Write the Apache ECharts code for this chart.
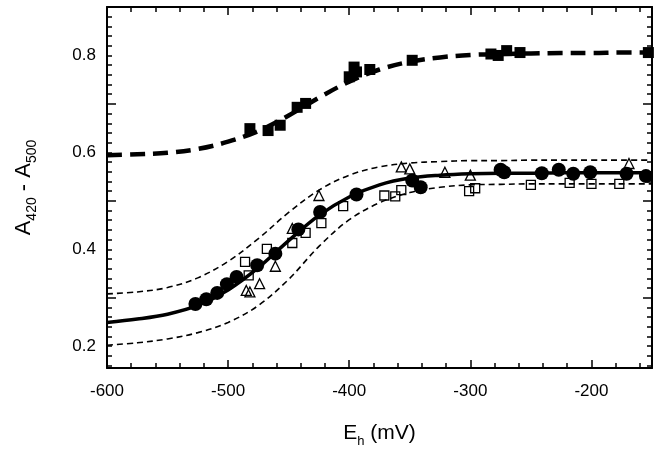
<!DOCTYPE html>
<html>
<head>
<meta charset="utf-8">
<script src="https://cdn.jsdelivr.net/npm/echarts@6/dist/echarts.min.js"></script>
<style>html,body{margin:0;padding:0;background:#fff;}#c{width:661px;height:457px;}</style>
</head>
<body>
<div id="c"></div>
<script>
// ---- data ----
const fitX = [-600,-575,-550,-525,-500,-475,-450,-425,-400,-375,-350,-325,-300,-275,-250,-225,-200,-175,-150];
const topFitY = [0.594,0.596,0.599,0.607,0.622,0.644,0.676,0.713,0.746,0.771,0.787,0.796,0.801,0.803,0.804,0.805,0.805,0.806,0.806];
const mainFitY = [0.249,0.256,0.266,0.284,0.316,0.362,0.418,0.470,0.508,0.533,0.547,0.553,0.556,0.557,0.557,0.558,0.558,0.558,0.558];
const upperBandY = [0.308,0.312,0.321,0.341,0.375,0.422,0.476,0.522,0.553,0.570,0.578,0.581,0.583,0.583,0.584,0.584,0.584,0.584,0.584];
const lowerBandY = [0.202,0.207,0.215,0.228,0.249,0.284,0.338,0.406,0.461,0.496,0.517,0.528,0.533,0.534,0.535,0.535,0.535,0.535,0.535];

const filledSquareX = [-482,-467,-457,-443,-436,-400,-396,-394,-383,-348,-283,-277,-270,-259,-153];
const filledSquareY = [0.649,0.645,0.656,0.693,0.701,0.756,0.776,0.766,0.771,0.790,0.803,0.800,0.810,0.806,0.806];

const filledCircleX = [-527,-518,-509,-501,-493,-476,-461,-442,-424,-394,-348,-341,-275,-272,-241,-227,-215,-201,-171,-155];
const filledCircleY = [0.287,0.297,0.310,0.328,0.343,0.367,0.391,0.441,0.477,0.513,0.542,0.528,0.564,0.559,0.557,0.564,0.556,0.559,0.556,0.551];

const openTriangleX = [-485,-482,-474,-461,-447,-425,-357,-350,-321,-300,-169];
const openTriangleY = [0.315,0.312,0.329,0.365,0.443,0.511,0.570,0.566,0.559,0.553,0.577];

const openSquareX = [-486,-483,-468,-447,-436,-423,-405,-371,-362,-357,-301,-296,-250,-218,-200,-177];
const openSquareY = [0.374,0.346,0.401,0.413,0.434,0.454,0.489,0.511,0.509,0.522,0.520,0.526,0.533,0.537,0.535,0.535];

const xTickLabels = [-600,-500,-400,-300,-200];
const xMinorTicks = [-580,-560,-540,-520,-480,-460,-440,-420,-380,-360,-340,-320,-280,-260,-240,-220,-180,-160];
const yTickLabels = [0.2,0.4,0.6,0.8];
const yMinorTicks = [0.16,0.18,0.2,0.22,0.24,0.26,0.28,0.3,0.32,0.34,0.36,0.38,0.4,0.42,0.44,0.46,0.48,0.5,0.52,0.54,0.56,0.58,0.6,0.62,0.64,0.66,0.68,0.7,0.72,0.74,0.76,0.78,0.8,0.82,0.84,0.86,0.88];
const yLongTicks = [0.3,0.5,0.7];

// ---- chart ----
const pair = (xs, ys) => xs.map((x, i) => [x, ys[i]]);
const FONT = '"Liberation Sans", Arial, sans-serif';
const X_MIN = -600, X_MAX = -150, Y_MIN = 0.155, Y_MAX = 0.9;

function xAx(pos, ticks, len, showLine, showLabel, extra) {
  return Object.assign({
    type: 'value', position: pos, min: X_MIN, max: X_MAX,
    axisLine: {show: showLine, onZero: false, lineStyle: {color: '#000', width: 2}},
    axisTick: {show: true, inside: true, length: len, customValues: ticks, lineStyle: {color: '#000', width: 1.5}},
    axisLabel: {show: showLabel, customValues: xTickLabels, color: '#000', fontSize: 17, fontFamily: FONT, margin: 15},
    splitLine: {show: false}
  }, extra || {});
}
function yAx(pos, ticks, len, showLine, showLabel, extra) {
  return Object.assign({
    type: 'value', position: pos, min: Y_MIN, max: Y_MAX,
    axisLine: {show: showLine, onZero: false, lineStyle: {color: '#000', width: 2}},
    axisTick: {show: true, inside: true, length: len, customValues: ticks, lineStyle: {color: '#000', width: 1.5}},
    axisLabel: {show: showLabel, customValues: yTickLabels, color: '#000', fontSize: 17, fontFamily: FONT, margin: 11,
      formatter: v => v.toFixed(1)},
    splitLine: {show: false}
  }, extra || {});
}

const chart = echarts.init(document.getElementById('c'), null, {renderer: 'canvas'});
const lineSeries = (ys, width, dash) => ({
  type: 'line', xAxisIndex: 0, yAxisIndex: 0, data: pair(fitX, ys),
  showSymbol: false, smooth: 0.35, silent: true, z: 2,
  lineStyle: {color: '#000', width: width, type: dash}
});
const scatterSeries = (xs, ys, symbol, size, filled) => ({
  type: 'scatter', xAxisIndex: 0, yAxisIndex: 0, data: pair(xs, ys),
  symbol: symbol, symbolSize: size, z: 3,
  itemStyle: filled ? {color: '#000', opacity: 1} : {color: 'rgba(0,0,0,0)', borderColor: '#000', borderWidth: 1.3, opacity: 1}
});

chart.setOption({
  backgroundColor: '#fff',
  animation: false,
  grid: {left: 107, right: 9, top: 7, bottom: 89, containLabel: false},
  xAxis: [
    xAx('bottom', xTickLabels, 8, true, true, {
      name: 'E{s|h} (mV)', nameLocation: 'middle', nameGap: 53,
      nameTextStyle: {color: '#000', fontSize: 21, fontFamily: FONT, lineHeight: 24, verticalAlign: 'top',
        rich: {s: {fontSize: 13, fontFamily: FONT, color: '#000', lineHeight: 14, verticalAlign: 'top', padding: [14, 0, 0, 0]}}}
    }),
    xAx('bottom', xMinorTicks, 5, false, false),
    xAx('top', xTickLabels, 8, true, false),
    xAx('top', xMinorTicks, 5, false, false)
  ],
  yAxis: [
    yAx('left', yMinorTicks, 5, true, true, {
      name: 'A{s|420} - A{s|500}', nameLocation: 'middle', nameGap: 96, nameRotate: 90,
      nameTextStyle: {color: '#000', fontSize: 22, fontFamily: FONT, lineHeight: 26, verticalAlign: 'top',
        rich: {s: {fontSize: 14, fontFamily: FONT, color: '#000', lineHeight: 15, verticalAlign: 'top', padding: [14, 0, 0, 0]}}}
    }),
    yAx('left', yLongTicks, 9, false, false),
    yAx('right', yMinorTicks, 5, true, false),
    yAx('right', yLongTicks, 9, false, false)
  ],
  series: [
    lineSeries(topFitY, 4.5, [15, 8]),
    lineSeries(upperBandY, 1.6, [6, 4]),
    lineSeries(lowerBandY, 1.6, [6, 4]),
    lineSeries(mainFitY, 3.5, 'solid'),
    scatterSeries(openSquareX, openSquareY, 'rect', 9, false),
    scatterSeries(openTriangleX, openTriangleY, 'triangle', 10, false),
    scatterSeries(filledSquareX, filledSquareY, 'rect', 11, true),
    scatterSeries(filledCircleX, filledCircleY, 'circle', 14, true)
  ]
});
</script>
</body>
</html>
